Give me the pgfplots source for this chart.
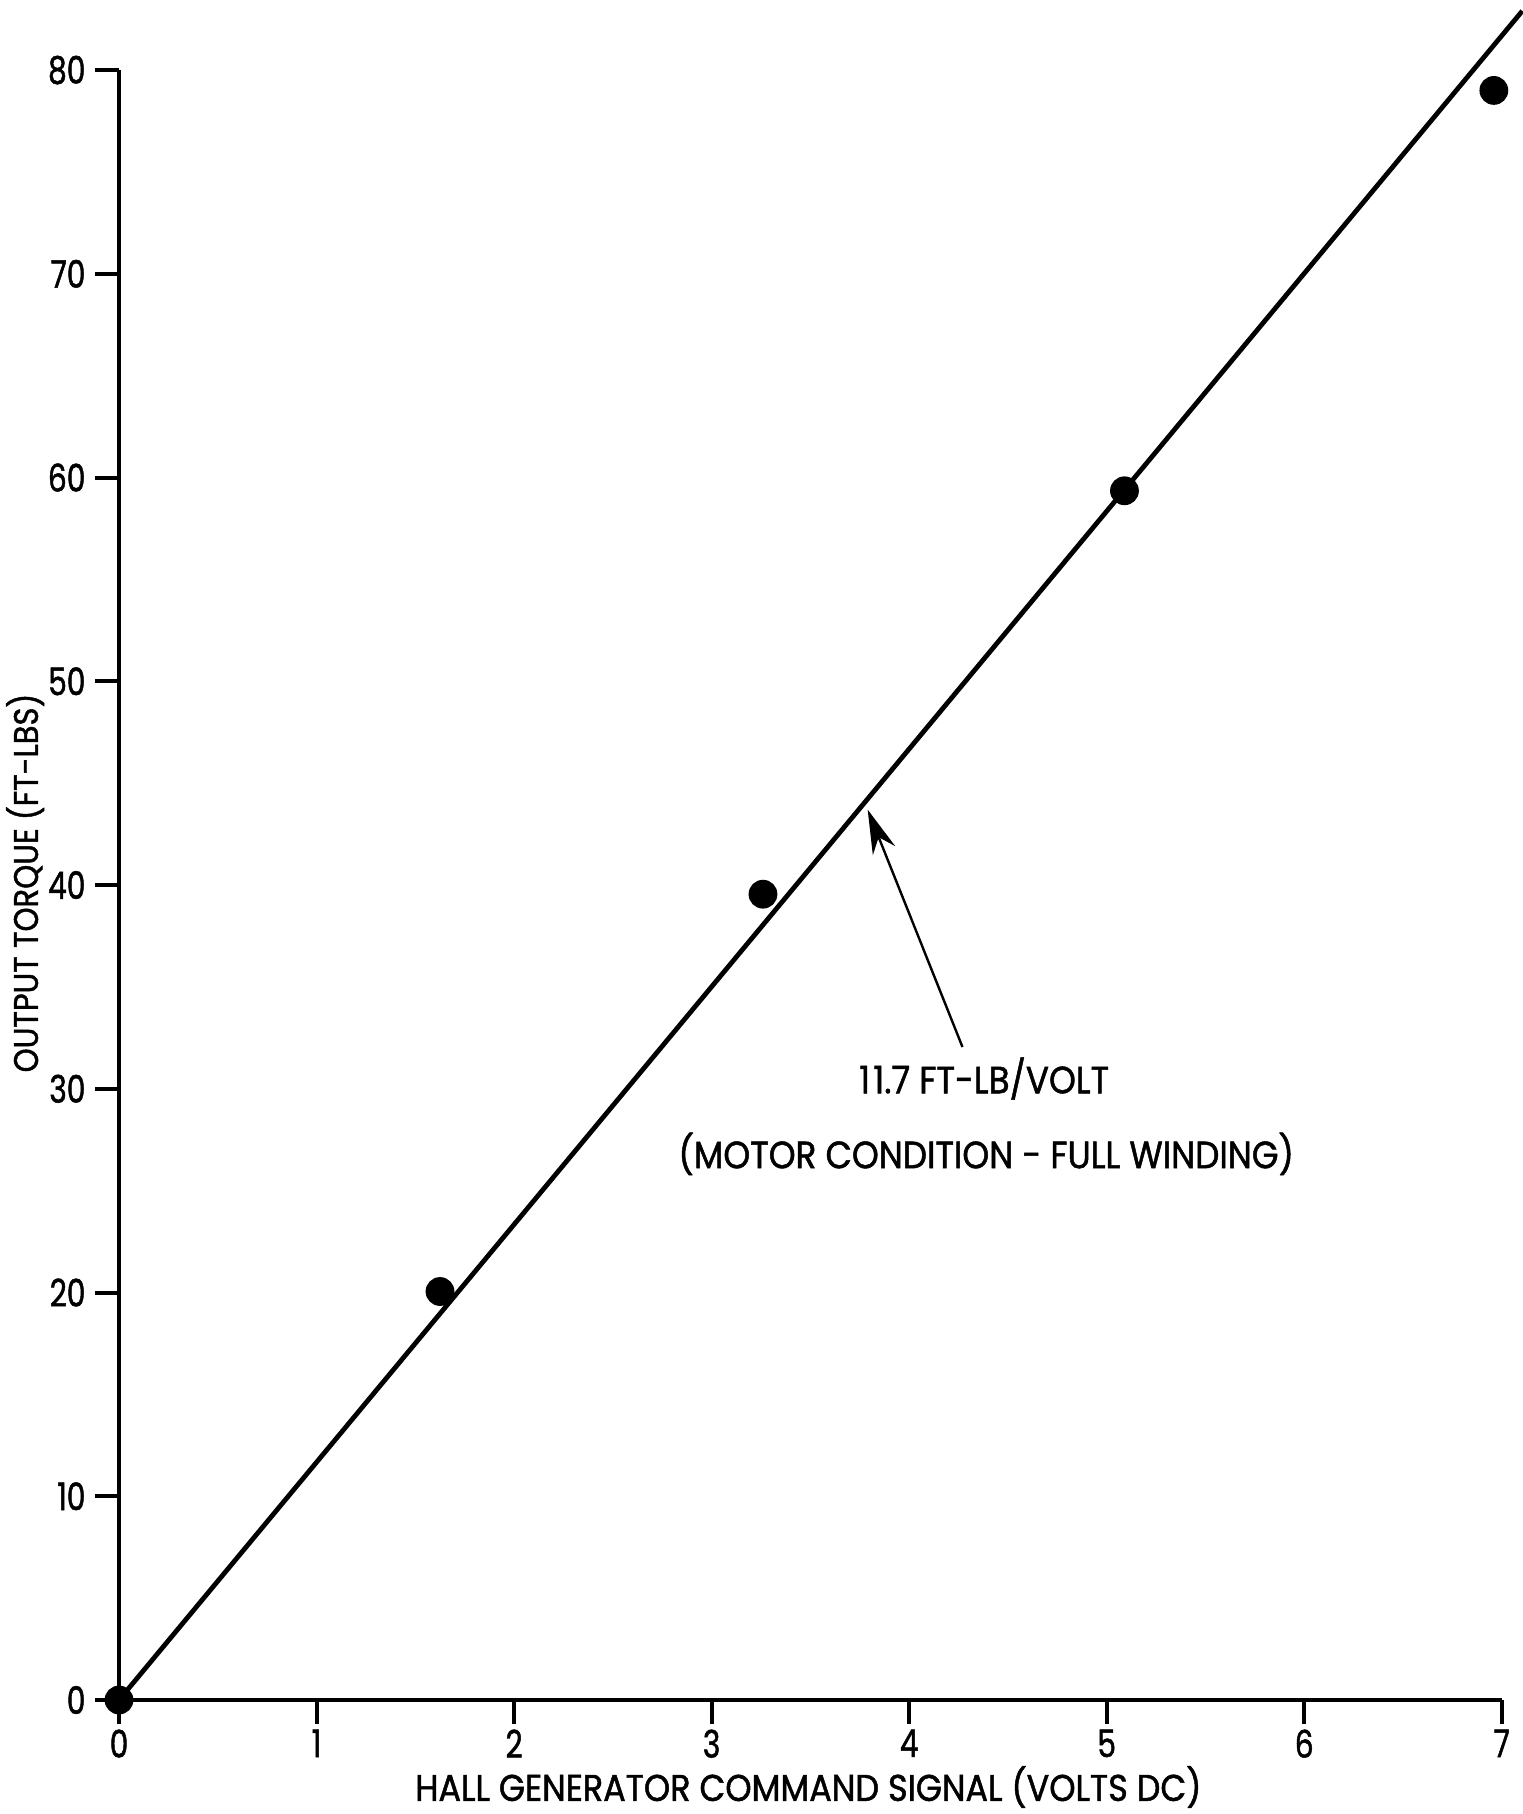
\documentclass[border=0pt]{standalone}
\usepackage{fontspec}
\setmainfont[FakeStretch=0.9, FakeBold=1.3]{Poppins}
\newfontfamily\tickfont[FakeStretch=0.78, FakeBold=1.3]{Poppins}
\usepackage{pgfplots}
\pgfplotsset{compat=1.18}
\usetikzlibrary{arrows.meta}
\begin{document}
\fontsize{9.5bp}{11bp}\selectfont
\begin{tikzpicture}
\begin{axis}[
  scale only axis, width=345.7bp, height=407.5bp,
  xmin=0, xmax=7, ymin=0, ymax=80,
  axis x line=bottom, axis y line=left,
  axis line style={-, line width=1bp, black},
  xtick={0,1,2,3,4,5,6,7}, ytick={0,10,20,30,40,50,60,70,80},
  tick align=outside, major tick length=6bp,
  tick style={line width=1bp, black},
  xticklabel style={inner sep=1.2bp, font=\tickfont\fontsize{9.5bp}{11bp}\selectfont},
  yticklabel style={inner sep=2.2bp, font=\tickfont\fontsize{9.5bp}{11bp}\selectfont},
  clip=false,
  /pgf/number format/assume math mode=true,
]
\addplot[black, line width=1.2bp] coordinates {(0,0) (7.104,82.9)};
\addplot[only marks, mark=*, mark size=3.4bp, black] coordinates {
  (0,0) (1.625,20.05) (3.26,39.55) (5.09,59.35) (6.96,79.0)
};
\draw[line width=0.6bp, -{Stealth[length=11bp, width=6bp]}] (axis cs:4.27,32.05) -- (axis cs:3.79,43.7);
\node at (axis cs:4.38,30.5) {1\kern0.8bp1.7 FT-LB/VOLT};
\node at (axis cs:4.39,26.8) {(MOTOR CONDITION - FULL WINDING)};
\node[font=\fontsize{9.3bp}{11bp}\selectfont] at (axis cs:3.49,-4.27) {HALL GENERATOR COMMAND SIGNAL (VOLTS DC)};
\node[rotate=90, font=\fontsize{8.5bp}{10bp}\selectfont] at (axis cs:-0.475,40.1) {OUTPUT TORQUE (FT-LBS)};
\coordinate (bl) at (axis cs:-0.6025,-5.595);
\coordinate (tr) at (axis cs:7.104,83.44);
\end{axis}
\pgfresetboundingbox
\path (bl) rectangle (tr);
\end{tikzpicture}
\end{document}
